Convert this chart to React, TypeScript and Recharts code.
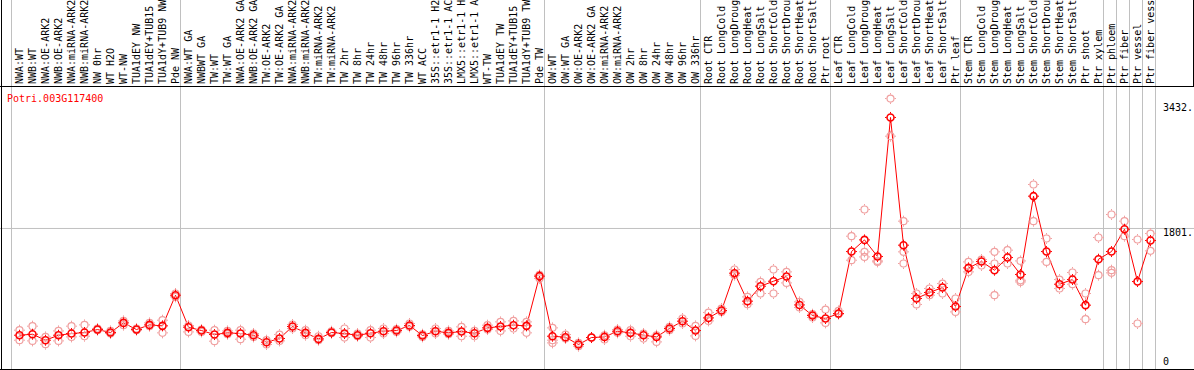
import { ComposedChart, Line, XAxis, YAxis, ReferenceLine } from 'recharts';

const geneId = 'Potri.003G117400';

// sample names as far as the column header shows them
const labels = [
  'NWA:WT', 'NWB:WT', 'NWA:OE-ARK2', 'NWB:OE-ARK2', 'NWA:miRNA-ARK2', 'NWB:miRNA-ARK2', 'NW 0hr', 'WT H2O',
  'WT-NW', 'TUA1dEY NW', 'TUA1dEY+TUB15', 'TUA1dY+TUB9 NW', 'Pde NW',
  'NWA:WT GA', 'NWBWT GA', 'TW:WT', 'TW:WT GA', 'NWA:OE-ARK2 GA', 'NWB:OE-ARK2 GA', 'TW:OE-ARK2', 'TW:OE-ARK2 GA',
  'NWA:miRNA-ARK2', 'NWB:miRNA-ARK2', 'TW:miRNA-ARK2', 'TW:miRNA-ARK2', 'TW 2hr', 'TW 8hr', 'TW 24hr',
  'TW 48hr', 'TW 96hr', 'TW 336hr', 'WT ACC', '35S::etr1-1 H2', '35S::etr1-1 AC', 'LMX5::etr1-1 H',
  'LMX5::etr1-1 A', 'WT-TW', 'TUA1dEY TW', 'TUA1dEY+TUB15', 'TUA1dY+TUB9 TW', 'Pde TW',
  'OW:WT', 'OW:WT GA', 'OW:OE-ARK2', 'OW:OE-ARK2 GA', 'OW:miRNA-ARK2', 'OW:miRNA-ARK2', 'OW 2hr', 'OW 8hr',
  'OW 24hr', 'OW 48hr', 'OW 96hr', 'OW 336hr',
  'Root CTR', 'Root LongCold', 'Root LongDroug', 'Root LongHeat', 'Root LongSalt', 'Root ShortCold',
  'Root ShortDrou', 'Root ShortHeat', 'Root ShortSalt', 'Ptr root',
  'Leaf CTR', 'Leaf LongCold', 'Leaf LongDroug', 'Leaf LongHeat', 'Leaf LongSalt', 'Leaf ShortCold',
  'Leaf ShortDrou', 'Leaf ShortHeat', 'Leaf ShortSalt', 'Ptr leaf',
  'Stem CTR', 'Stem LongCold', 'Stem LongDroug', 'Stem LongHeat', 'Stem LongSalt', 'Stem ShortCold',
  'Stem ShortDrou', 'Stem ShortHeat', 'Stem ShortSalt', 'Ptr shoot', 'Ptr xylem',
  'Ptr phloem', 'Ptr fiber', 'Ptr vessel', 'Ptr fiber vess',
];

// first index of every sample group (88 = end)
const groupStarts = [0, 13, 41, 53, 63, 73, 84, 85, 86, 87, 88];

const meanValues = [
  409, 422, 344, 409, 431, 444, 483, 444, 570, 483, 544, 531, 931,
  514, 470, 418, 440, 431, 409, 318, 366, 523, 440, 361, 444, 431, 409, 435, 461, 470, 536, 405, 461, 440,
  457, 435, 505, 523, 540, 531, 1179,
  396, 383, 288, 379, 387, 461, 440, 409, 387, 497, 592, 470,
  635, 731, 1218, 853, 1048, 1113, 1175, 804, 666, 627,
  692, 1500, 1652, 1435, 3248, 1583, 888, 966, 1031, 783,
  1287, 1370, 1257, 1422, 1201, 2222, 1500, 1074, 1135, 801, 1400,
  1500, 1791, 1109, 1644,
];

const repHigh = [
  475, 527, 387, 465, 527, 544, 497, 465, 596, 497, 570, 605, 953,
  536, 483, 475, 465, 475, 431, 344, 418, 549, 475, 396, 461, 497, 431, 475, 497, 488, 562, 422, 497, 465,
  518, 465, 540, 583, 596, 583, 1195,
  505, 418, 309, 379, 409, 483, 475, 431, 409, 518, 627, 531,
  705, 757, 1266, 909, 1104, 1266, 1235, 844, 683, 744,
  726, 1700, 2048, 1378, 3495, 1896, 953, 1018, 1083, 888,
  1365, 1396, 1496, 1518, 1378, 2374, 1670, 1135, 1227, 953, 1683,
  1983, 1896, 1657, 1735,
];

const repLow = [
  344, 335, 292, 335, 387, 396, 475, 431, 540, 475, 527, 440, 909,
  452, 452, 331, 422, 357, 387, 288, 335, 497, 409, 344, 435, 379, 396, 379, 431, 452, 518, 387, 431, 422,
  396, 396, 483, 465, 497, 440, 1150,
  344, 366, 266, 379, 353, 440, 396, 366, 322, 475, 562, 400,
  596, 713, 1192, 814, 953, 953, 1091, 771, 640, 570,
  683, 1387, 1496, 1365, 3004, 1496, 810, 931, 953, 713,
  1235, 1318, 1344, 1344, 1126, 1896, 1365, 1018, 1074, 618, 1192,
  1257, 1700, 562, 1509,
];

const repExtra = [
  null, null, null, null, null, null, null, null, null, null, null, null, null,
  null, null, null, null, null, null, null, null, null, null, null, null, null, null, null, null, null, null,
  null, null, null, null, null, null, null, null, null, null,
  309, null, null, null, null, null, null, null, null, null, null, null,
  null, null, null, null, null, null, null, null, null, null,
  null, null, 1430, null, null, 1344, null, null, null, null,
  null, null, 931, null, 1104, null, null, null, null, null, null,
  1222, null, null, null,
];

const yTicks = [0, 1801, 3432];

const data = labels.map((label, i) => ({
  i,
  label,
  mean: meanValues[i],
  r1: repHigh[i],
  r2: repLow[i],
  r3: repExtra[i],
}));

const W = 1194;
const H = 370;
const CAT = 13; // px per sample
const FIRST_X = 19.5;
const ZERO_Y = 366.6;
const PX_PER_UNIT = 0.0767;

const xDomain = [-FIRST_X / CAT, (W - FIRST_X) / CAT];
const yDomain = [-(H - ZERO_Y) / PX_PER_UNIT, ZERO_Y / PX_PER_UNIT];
const yAt = (px: number) => (ZERO_Y - px) / PX_PER_UNIT;

const FONT = '"DejaVu Sans Mono", monospace';
const GRID = '#c0c0c0';

function ringDot(color: string, width: number) {
  return (props: any) => {
    const { cx, cy, index, value } = props;
    if (cx == null || cy == null || value == null) return <g key={`d-${index}`} />;
    return (
      <g key={`d-${index}`}>
        <circle cx={cx} cy={cy} r={3.5} fill="none" stroke={color} strokeWidth={width} />
        <path
          d={`M${cx},${cy - 5.5}v1.5M${cx},${cy + 4}v1.5M${cx - 5.5},${cy}h1.5M${cx + 4},${cy}h1.5`}
          stroke={color}
          strokeWidth={1}
        />
      </g>
    );
  };
}

const repDot = ringDot('#f0a0a0', 1.2);
const meanDot = ringDot('#ff0000', 1.6);

const yLabel = (text: string, dy: number) => (p: any) => (
  <text x={p.viewBox.x + p.viewBox.width - 31} y={p.viewBox.y + dy} fontFamily={FONT} fontSize={10} fill="#000">
    {text}
  </text>
);

export default function App() {
  return (
    <div style={{ width: W, height: H, background: '#fff' }}>
      <style>{'body{margin:0}'}</style>
      <ComposedChart width={W} height={H} data={data} margin={{ top: 0, right: 0, bottom: 0, left: 0 }}>
        <XAxis dataKey="i" type="number" domain={xDomain} allowDataOverflow hide />
        <YAxis type="number" domain={yDomain} allowDataOverflow hide />

        {groupStarts.map((g) => (
          <ReferenceLine key={`g-${g}`} x={g - 0.615} stroke={GRID} strokeWidth={1} ifOverflow="visible" />
        ))}
        {labels.map((name, i) => (
          <ReferenceLine
            key={`l-${i}`}
            x={i}
            stroke="none"
            ifOverflow="visible"
            label={(p: any) => (
              <text
                transform={`translate(${p.viewBox.x + 3},84) rotate(-90)`}
                fontFamily={FONT}
                fontSize={10}
                fill="#000"
              >
                {name}
              </text>
            )}
          />
        ))}
        <ReferenceLine y={yTicks[1]} stroke={GRID} label={yLabel('1801.', 8)} />
        <ReferenceLine y={yTicks[2]} stroke="none" label={yLabel('3432.', 8)} />
        <ReferenceLine y={yTicks[0]} stroke="none" label={yLabel('0', -2)} />
        <ReferenceLine
          y={yAt(86.5)}
          stroke="#000"
          label={(p: any) => (
            <text x={7} y={p.viewBox.y + 15} fontFamily={FONT} fontSize={10} fill="#ff0000">
              {geneId}
            </text>
          )}
        />
        <ReferenceLine y={yAt(369.5)} stroke="#000" />
        <ReferenceLine x={(1.5 - FIRST_X) / CAT} stroke="#000" ifOverflow="visible" />
        <ReferenceLine
          segment={[
            { x: (1193.5 - FIRST_X) / CAT, y: yAt(86.5) },
            { x: (1193.5 - FIRST_X) / CAT, y: yAt(0) },
          ]}
          stroke="#000"
          ifOverflow="visible"
        />

        <Line dataKey="r1" stroke="none" dot={repDot} activeDot={false} isAnimationActive={false} />
        <Line dataKey="r2" stroke="none" dot={repDot} activeDot={false} isAnimationActive={false} />
        <Line dataKey="r3" stroke="none" dot={repDot} activeDot={false} isAnimationActive={false} />
        <Line
          dataKey="mean"
          stroke="#ff0000"
          strokeWidth={1}
          dot={meanDot}
          activeDot={false}
          isAnimationActive={false}
        />
      </ComposedChart>
    </div>
  );
}
